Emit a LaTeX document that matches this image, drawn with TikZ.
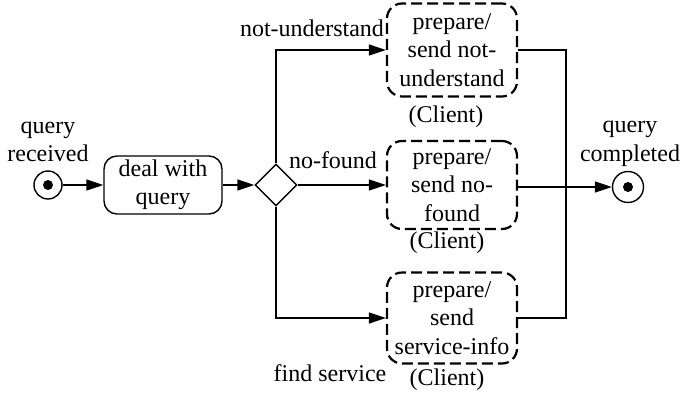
\documentclass[tikz,border=0pt]{standalone}
\usepackage{fontspec}
\setmainfont{Liberation Serif}
\usetikzlibrary{arrows.meta,shapes.geometric}
\begin{document}
\begin{tikzpicture}[x=1pt,y=-1pt,
  every node/.style={font=\fontsize{24}{28.5}\selectfont, inner sep=0pt},
  conn/.style={line width=1.4pt},
  arr/.style={conn,-{Triangle[length=17pt,width=11pt]}},
  action/.style={draw, line width=1.4pt, rounded corners=13pt, align=center,
    minimum width=118pt, minimum height=58pt},
  dashbox/.style={draw, line width=2.2pt, rounded corners=15pt, align=center,
    dash pattern=on 11pt off 5pt, minimum width=130pt},
  initial/.style={circle, draw, line width=1.4pt, minimum size=28pt},
  dot/.style={circle, fill, minimum size=10pt},
  decision/.style={diamond, draw, line width=1.4pt, minimum width=42pt, minimum height=42pt}
]
\useasboundingbox (0,0) rectangle (683,394);

% start
\node[initial] (start) at (48,185) {};
\node[dot] (startdot) at (start) {};
\node[align=center] (lblstart) at (48,142) {query\\received};

% deal with query
\node[action] (deal) at (163,185) {deal with\\query};

% decision
\node[decision] (dia) at (276,185) {};

% dashed action boxes
\node[dashbox, minimum height=93pt] (top) at (452,50) {prepare/\\send not-\\understand};
\node[dashbox, minimum height=88pt] (mid) at (452,185) {prepare/\\send no-\\found};
\node[dashbox, minimum height=91pt] (bot) at (452,318) {prepare/\\send\\service-info};

\node (cl1) at (446,117) {(Client)};
\node (cl2) at (447,243) {(Client)};
\node (cl3) at (447,380) {(Client)};

% guards
\node (g1) at (312,28) {not-understand};
\node (g2) at (333,160) {no-found};
\node (g3) at (330,373) {find service};

% end
\node[initial, minimum size=31pt] (fin) at (628,187) {};
\node[dot, minimum size=10pt] (findot) at (fin) {};
\node[align=center] (lblend) at (630,144) {query\\completed};

% connectors
\draw[arr] (start) -- (deal.west);
\draw[arr] (deal.east) -- (dia.west);
\draw[arr] (dia.north) |- (top.west);
\draw[arr] (dia.east) -- (mid.west);
\draw[arr] (dia.south) |- (bot.west);

\coordinate (jt) at (566,50);
\coordinate (jb) at (566,318);
\draw[conn] (top.east) -- (jt) -- (jb) -- (bot.east);
\draw[arr] (mid.east |- fin.west) -- (fin.west);
\end{tikzpicture}
\end{document}
